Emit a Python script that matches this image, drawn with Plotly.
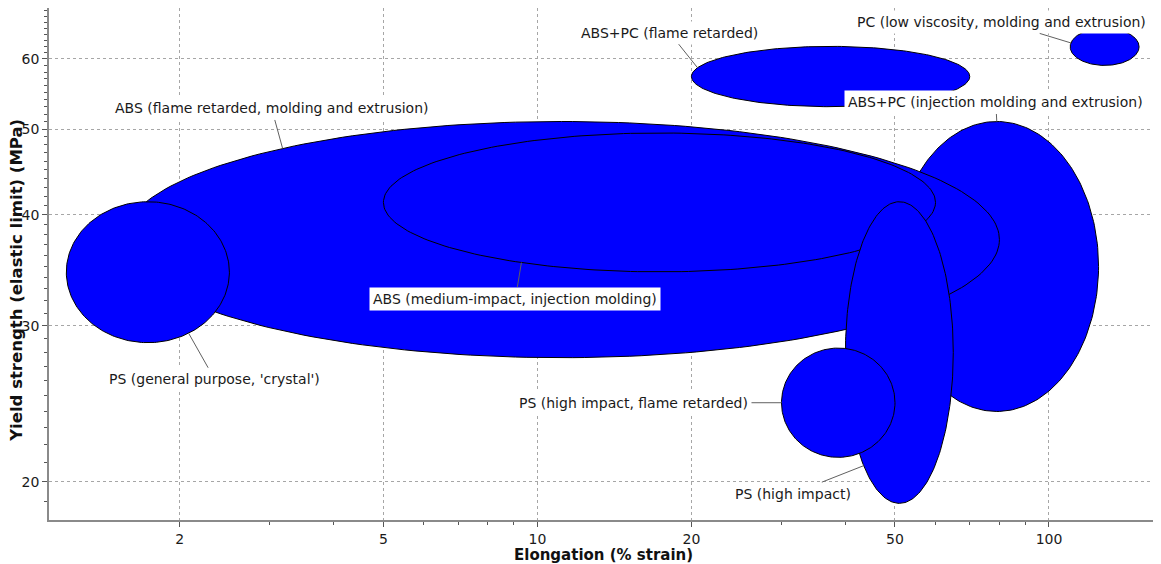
import numpy as np
import plotly.graph_objects as go

# ---- data (ranges) ----
materials = [
    "ABS+PC (injection molding and extrusion)",
    "ABS (flame retarded, molding and extrusion)",
    "ABS (medium-impact, injection molding)",
    "PS (general purpose, 'crystal')",
    "PS (high impact)",
    "PS (high impact, flame retarded)",
    "ABS+PC (flame retarded)",
    "PC (low viscosity, molding and extrusion)",
]
elong_lo = [50.0, 1.55, 5.0, 1.2, 40.0, 30.0, 20.0, 110.0]
elong_hi = [125.0, 80.0, 60.0, 2.5, 65.0, 50.0, 70.0, 150.0]
yield_lo = [24.0, 27.6, 34.5, 28.7, 18.9, 21.3, 53.0, 59.0]
yield_hi = [51.0, 51.0, 49.5, 41.4, 41.4, 28.3, 62.0, 65.0]

x_tickvals = [2, 5, 10, 20, 50, 100]
x_ticktext = ["2", "5", "10", "20", "50", "100"]
y_tickvals = [20, 30, 40, 50, 60]
y_ticktext = ["20", "30", "40", "50", "60"]

x_title = "Elongation (% strain)"
y_title = "Yield strength (elastic limit) (MPa)"

# label placement (layout only): attachment angle on ellipse (deg), text offset (px)
label_angle = [90, 129.5, 240, 300, 228.6, 180, 163, 168]
label_ax = [-1, -11, -6, 26, -71, -148, -28, -69]
label_ay = [-19, -40, 36, 46, 28, 0, -35, -21]

FONT = "DejaVu Sans"

fig = go.Figure()
t = np.linspace(0, 2 * np.pi, 241)


def ell_params(i):
    lx0, lx1 = np.log10(elong_lo[i]), np.log10(elong_hi[i])
    ly0, ly1 = np.log10(yield_lo[i]), np.log10(yield_hi[i])
    return (lx0 + lx1) / 2, (lx1 - lx0) / 2, (ly0 + ly1) / 2, (ly1 - ly0) / 2


for i, name in enumerate(materials):
    cx, rx, cy, ry = ell_params(i)
    xs = 10 ** (cx + rx * np.cos(t))
    ys = 10 ** (cy + ry * np.sin(t))
    fig.add_trace(go.Scatter(
        x=xs, y=ys, mode="lines", fill="toself",
        fillcolor="#0000ff", line=dict(color="#000000", width=1),
        name=name, hoverinfo="skip", showlegend=False,
    ))

annotations = []
for i, name in enumerate(materials):
    cx, rx, cy, ry = ell_params(i)
    a = np.deg2rad(label_angle[i])
    px = 10 ** (cx + rx * np.cos(a))
    py = 10 ** (cy + ry * np.sin(a))
    annotations.append(dict(
        x=np.log10(px), y=np.log10(py), xref="x", yref="y",
        text=name, showarrow=True, arrowhead=0, arrowwidth=1,
        arrowcolor="#606060", ax=label_ax[i], ay=label_ay[i],
        bgcolor="#ffffff", borderpad=3, standoff=0,
        font=dict(family=FONT, size=14, color="#1a1a1a"),
    ))

# axis titles as paper-anchored text
annotations.append(dict(
    text="<b>" + x_title + "</b>", xref="paper", yref="paper",
    x=0.5, y=-0.068, xanchor="center", yanchor="middle", showarrow=False,
    font=dict(family=FONT, size=15, color="#111111"),
))
annotations.append(dict(
    text="<b>" + y_title + "</b>", xref="paper", yref="paper",
    x=-0.0289, y=0.469, xanchor="center", yanchor="middle", showarrow=False,
    textangle=-90, font=dict(family=FONT, size=16.5, color="#111111"),
))

minor_x = [3, 4, 6, 7, 8, 9, 30, 40, 60, 70, 80, 90]
minor_y = [v for v in range(19, 69) if v not in y_tickvals]

axis_common = dict(
    showline=True, linecolor="#8a8a8a", linewidth=1.5, mirror=True,
    showgrid=True, gridcolor="#a6a6a6", griddash="dot", gridwidth=1,
    ticks="outside", ticklen=5, tickcolor="#555555", tickwidth=1,
    tickfont=dict(family=FONT, size=14, color="#1a1a1a"),
    zeroline=False, automargin=False,
)

# the page body adds an 8px offset; figure size/margins compensate for it
fig.update_layout(
    width=1153, height=556,
    margin=dict(l=41, r=4, t=0, b=44, autoexpand=False),
    paper_bgcolor="#ffffff", plot_bgcolor="#ffffff",
    annotations=annotations,
    xaxis=dict(
        type="log", range=[np.log10(1.11), np.log10(162.6)],
        tickmode="array", tickvals=x_tickvals, ticktext=x_ticktext,
        minor=dict(tickvals=minor_x, ticks="outside", ticklen=3,
                   tickcolor="#555555", showgrid=False),
        **axis_common,
    ),
    yaxis=dict(
        type="log", range=[np.log10(18.1), np.log10(68.5)],
        tickmode="array", tickvals=y_tickvals, ticktext=y_ticktext,
        minor=dict(tickvals=minor_y, ticks="outside", ticklen=3,
                   tickcolor="#555555", showgrid=False),
        **axis_common,
    ),
)

fig.write_html("out.html")
